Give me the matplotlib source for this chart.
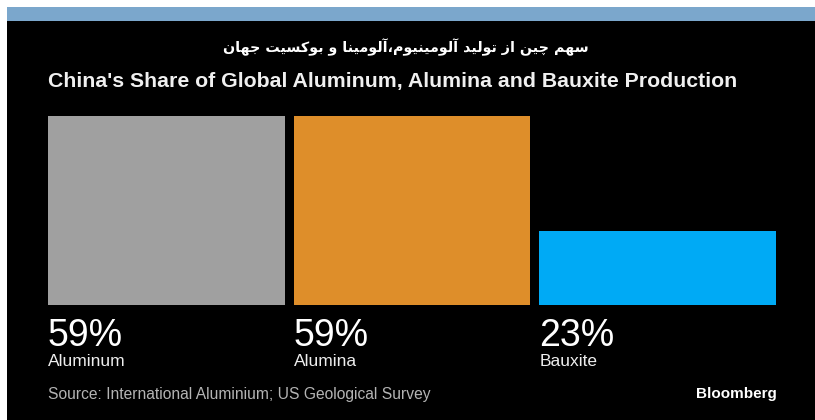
import matplotlib
matplotlib.use('Agg')
import matplotlib.pyplot as plt
from matplotlib.patches import Rectangle

# Chart data
categories = ['Aluminum', 'Alumina', 'Bauxite']
shares = [59, 59, 23]
colors = ['#a0a0a0', '#de8e2a', '#00aaf5']
labels = [f'{v}%' for v in shares]

title_fa = 'سهم چین از تولید آلومینیوم،آلومینا و بوکسیت جهان'
title_en = "China's Share of Global Aluminum, Alumina and Bauxite Production"
source = 'Source: International Aluminium; US Geological Survey'

W, H = 815, 420
FONT = 'Liberation Sans'

# Persian letter forms (isolated, final, initial, medial)
DUAL = {
    'ب': (0xFE8F, 0xFE90, 0xFE91, 0xFE92),
    'ت': (0xFE95, 0xFE96, 0xFE97, 0xFE98),
    'ج': (0xFE9D, 0xFE9E, 0xFE9F, 0xFEA0),
    'چ': (0xFB7A, 0xFB7B, 0xFB7C, 0xFB7D),
    'س': (0xFEB1, 0xFEB2, 0xFEB3, 0xFEB4),
    'ل': (0xFEDD, 0xFEDE, 0xFEDF, 0xFEE0),
    'م': (0xFEE1, 0xFEE2, 0xFEE3, 0xFEE4),
    'ن': (0xFEE5, 0xFEE6, 0xFEE7, 0xFEE8),
    'ه': (0xFEE9, 0xFEEA, 0xFEEB, 0xFEEC),
    'ی': (0xFBFC, 0xFBFD, 0xFBFE, 0xFBFF),
    'ک': (0xFB8E, 0xFB8F, 0xFB90, 0xFB91),
}
RIGHT = {
    'ا': (0xFE8D, 0xFE8E),
    'آ': (0xFE81, 0xFE82),
    'د': (0xFEA9, 0xFEAA),
    'ز': (0xFEAF, 0xFEB0),
    'و': (0xFEED, 0xFEEE),
}


def shape_fa(s):
    out = []
    for i, c in enumerate(s):
        prev = s[i - 1] if i > 0 else ''
        nxt = s[i + 1] if i + 1 < len(s) else ''
        jp = prev in DUAL and (c in DUAL or c in RIGHT)
        jn = c in DUAL and (nxt in DUAL or nxt in RIGHT)
        if c in DUAL:
            f = DUAL[c]
            ch = f[3] if (jp and jn) else f[1] if jp else f[2] if jn else f[0]
            out.append(chr(ch))
        elif c in RIGHT:
            out.append(chr(RIGHT[c][1] if jp else RIGHT[c][0]))
        else:
            out.append(c)
    return ''.join(reversed(out))


def fit_width(fig, txt, width_px):
    r = fig.canvas.get_renderer()
    w = txt.get_window_extent(r).width
    txt.set_fontsize(txt.get_fontsize() * width_px / w)


fig = plt.figure(figsize=(W / 100, H / 100), dpi=100, facecolor='white')

# Background panel in pixel coordinates
bg = fig.add_axes([0, 0, 1, 1])
bg.set_xlim(0, W)
bg.set_ylim(H, 0)
bg.axis('off')
bg.add_patch(Rectangle((7, 7), W - 7, H - 7, color='black', lw=0))
bg.add_patch(Rectangle((7, 7), W - 7, 14, color='#7ba7cc', lw=0))

t_fa = bg.text(406, 47, shape_fa(title_fa), color='white', ha='center', va='center',
               fontsize=14, family=['DejaVu Sans'], fontweight='bold')
t_en = bg.text(48, 87, title_en, color='#f0f0f0', ha='left', va='baseline',
               fontsize=15, family=FONT, fontweight='bold')
t_src = bg.text(48, 399, source, color='#b4b4b4', ha='left', va='baseline',
                fontsize=10, family=FONT)
t_bb = bg.text(777, 398, 'Bloomberg', color='white', ha='right', va='baseline',
               fontsize=11, family=FONT, fontweight='bold')
fit_width(fig, t_fa, 368)
fit_width(fig, t_en, 689)
fit_width(fig, t_src, 385)

# Bars
bw = 0.964
ax = fig.add_axes([48 / W, (H - 305) / H, 728 / W, 189 / H])
ax.set_facecolor('none')
x = list(range(len(categories)))
ax.bar(x, shares, width=bw, color=colors, align='center')
ax.set_xlim(-bw / 2, len(categories) - 1 + bw / 2)
ax.set_ylim(0, max(shares))
ax.axis('off')

for xi, lab, cat in zip(x, labels, categories):
    ax.annotate(lab, xy=(xi - bw / 2, 0), xycoords='data', xytext=(0, -41),
                textcoords='offset pixels', ha='left', va='baseline',
                color='white', fontsize=27, family=FONT, annotation_clip=False)
    ax.annotate(cat, xy=(xi - bw / 2, 0), xycoords='data', xytext=(0, -61),
                textcoords='offset pixels', ha='left', va='baseline',
                color='#eeeeee', fontsize=12.5, family=FONT, annotation_clip=False)

fig.savefig('out.png', dpi=100, facecolor='white')
